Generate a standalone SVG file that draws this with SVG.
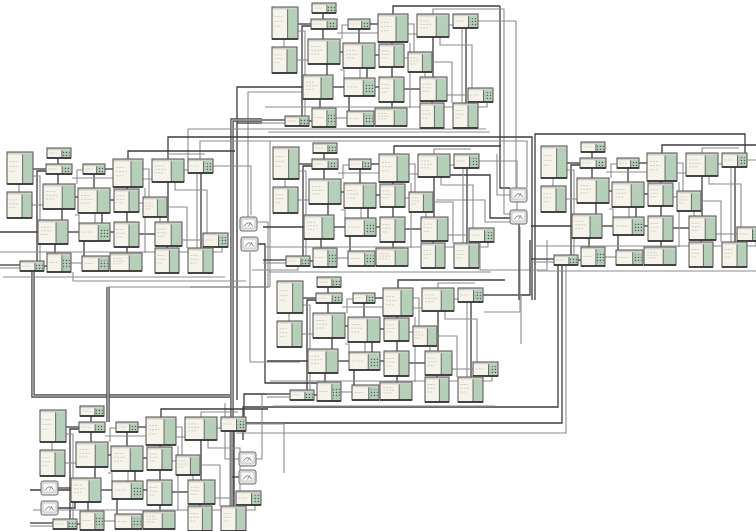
<svg xmlns="http://www.w3.org/2000/svg" width="756" height="531" viewBox="0 0 756 531">
<style>
.k{fill:none;stroke:#3d3d3d;stroke-width:1.3}
.t{fill:none;stroke:#8c8c8c;stroke-width:1.1}
.d{fill:none;stroke:#454545;stroke-width:3.4}
.di{fill:none;stroke:#d8d8d8;stroke-width:1.1}
</style>
<defs>
<pattern id="dots" width="3" height="3" patternUnits="userSpaceOnUse"><rect x="0.8" y="0.8" width="1.3" height="1.3" fill="#4e5a50"/></pattern>
<symbol id="bx" overflow="visible">
 <rect width="100%" height="100%" fill="#f6f4ea"/>
 <rect x="60%" width="40%" height="100%" fill="#b5cfb9"/>
 <rect width="100%" height="2.4" fill="#d0d0c8"/>
 <g stroke="#c2c0b4" stroke-width="0.7" stroke-dasharray="2 1">
  <line x1="10%" y1="30%" x2="40%" y2="30%"/>
  <line x1="10%" y1="45%" x2="45%" y2="45%"/>
  <line x1="10%" y1="60%" x2="35%" y2="60%"/>
 </g>
 <line x1="60%" y1="2.4" x2="60%" y2="100%" stroke="#4c4c4c" stroke-width="0.8"/>
 <rect width="100%" height="100%" fill="none" stroke="#5e5e5e" stroke-width="1.1"/>
 <line x1="0" y1="100%" x2="100%" y2="100%" stroke="#2e2e2e" stroke-width="1.6"/>
</symbol>
<symbol id="bd" overflow="visible">
 <rect width="100%" height="100%" fill="#f6f4ea"/>
 <rect x="62%" width="38%" height="100%" fill="#b5cfb9"/>
 <rect x="67%" y="30%" width="28%" height="55%" fill="url(#dots)"/>
 <rect width="100%" height="2.2" fill="#d0d0c8"/>
 <line x1="10%" y1="50%" x2="45%" y2="50%" stroke="#c2c0b4" stroke-width="0.7" stroke-dasharray="2 1"/>
 <line x1="62%" y1="2.2" x2="62%" y2="100%" stroke="#4c4c4c" stroke-width="0.8"/>
 <rect width="100%" height="100%" fill="none" stroke="#5e5e5e" stroke-width="1.1"/>
 <line x1="0" y1="100%" x2="100%" y2="100%" stroke="#2e2e2e" stroke-width="1.6"/>
</symbol>
<symbol id="ga" overflow="visible">
 <rect width="17" height="14" rx="2" fill="#e4e8e4" stroke="#6a6a6a" stroke-width="1"/>
 <rect x="2" y="2" width="13" height="9" fill="#fbfbfb" stroke="#aaa" stroke-width="0.6"/>
 <path d="M4,9.5 Q8.5,2 13,9.5" fill="none" stroke="#667" stroke-width="0.8"/>
 <path d="M8.5,9.5 L11,5" fill="none" stroke="#667" stroke-width="0.6"/>
</symbol>
<g id="mod">
 <g id="mod-links">
  <path class="k" d="M297,24H311"/>
  <path class="k" d="M323,13V19"/>
  <path class="k" d="M323,29V39"/>
  <path class="k" d="M311,26H302V116"/>
  <path class="t" d="M298,31H305V116"/>
  <path class="k" d="M359,29V43"/>
  <path class="t" d="M348,25H342V39"/>
  <path class="k" d="M370,24H378"/>
  <path class="k" d="M393,14V6H500"/>
  <path class="t" d="M433,14V9H470"/>
  <path class="t" d="M478,21H516V70"/>
  <path class="k" d="M433,37V77"/>
  <path class="t" d="M462,28V103"/>
  <path class="k" d="M466,28V103"/>
  <path class="t" d="M408,24H414V52"/>
  <path class="t" d="M408,34H440V45H472V88"/>
  <path class="k" d="M327,64V75"/>
  <path class="k" d="M340,52H343"/>
  <path class="k" d="M375,55H379"/>
  <path class="t" d="M404,58H408"/>
  <path class="t" d="M425,72V77"/>
  <path class="k" d="M333,87H344"/>
  <path class="k" d="M375,87H379"/>
  <path class="k" d="M404,89H420"/>
  <path class="t" d="M360,68V78"/>
  <path class="k" d="M367,68V78"/>
  <path class="k" d="M349,96V111"/>
  <path class="k" d="M392,102V108"/>
  <path class="k" d="M320,99V108"/>
  <path class="k" d="M303,87H262"/>
  <path class="k" d="M285,120H262"/>
  <path class="t" d="M285,123H262"/>
  <path class="t" d="M265,107H487V92"/>
  <path class="t" d="M268,132H490"/>
  <path class="k" d="M392,67V77"/>
  <path class="k" d="M392,42V44"/>
  <path class="t" d="M284,39V47"/>
  <path class="t" d="M297,60H308"/>
  <path class="t" d="M432,62H452V103"/>
  <path class="t" d="M449,25H453"/>
  <path class="t" d="M447,95H468"/>
  <path class="k" d="M432,101V103"/>
  <path class="t" d="M410,43V108"/>
  <path class="t" d="M337,33H378"/>
  <path class="k" d="M309,121H312"/>
  <path class="t" d="M336,118H347"/>
  <path class="t" d="M340,70H344V78"/>
 </g>
 <g id="mod-nodes">
  <g id="m1"><use href="#bd" x="312" y="3" width="24" height="10"/></g>
  <g id="m2"><use href="#bx" x="272" y="7" width="26" height="32"/></g>
  <g id="m3"><use href="#bd" x="311" y="19" width="26" height="10"/></g>
  <g id="m4"><use href="#bd" x="348" y="19" width="22" height="10"/></g>
  <g id="m5"><use href="#bx" x="378" y="14" width="30" height="28"/></g>
  <g id="m6"><use href="#bx" x="417" y="14" width="32" height="23"/></g>
  <g id="m7"><use href="#bd" x="453" y="14" width="25" height="14"/></g>
  <g id="m8"><use href="#bx" x="272" y="47" width="25" height="26"/></g>
  <g id="m9"><use href="#bx" x="308" y="39" width="32" height="25"/></g>
  <g id="m10"><use href="#bx" x="343" y="43" width="32" height="25"/></g>
  <g id="m11"><use href="#bx" x="379" y="44" width="25" height="23"/></g>
  <g id="m12"><use href="#bx" x="408" y="52" width="24" height="20"/></g>
  <g id="m13"><use href="#bx" x="303" y="75" width="30" height="24"/></g>
  <g id="m14"><use href="#bd" x="344" y="78" width="31" height="18"/></g>
  <g id="m15"><use href="#bx" x="379" y="77" width="25" height="25"/></g>
  <g id="m16"><use href="#bx" x="420" y="77" width="27" height="24"/></g>
  <g id="m17"><use href="#bd" x="468" y="88" width="25" height="14"/></g>
  <g id="m18"><use href="#bd" x="312" y="108" width="24" height="19"/></g>
  <g id="m19"><use href="#bd" x="347" y="111" width="27" height="15"/></g>
  <g id="m20"><use href="#bx" x="375" y="108" width="32" height="18"/></g>
  <g id="m21"><use href="#bx" x="420" y="103" width="24" height="25"/></g>
  <g id="m22"><use href="#bx" x="453" y="103" width="25" height="25"/></g>
  <g id="m23"><use href="#bd" x="285" y="116" width="24" height="10"/></g>
 </g>
</g>
</defs>
<rect width="756" height="531" fill="#ffffff"/>
<g id="connectors">
 <path class="k" d="M500,6V188H510"/>
 <path class="t" d="M470,9H504V214H510"/>
 <path class="t" d="M516,70V188"/>
 <path class="k" d="M262,87H237V400"/>
 <path class="t" d="M303,92H248V218"/>
 <path class="d" d="M262,120H232V531"/><path class="di" d="M262,120H232V531"/>
 <path class="k" d="M262,123H237"/>
 <path class="t" d="M188,159V129H486"/>
 <path class="k" d="M168,159V137H532V300"/>
 <path class="t" d="M200,159V141H527V188"/>
 <path class="k" d="M535,300V134H745V153"/>
 <path class="t" d="M257,222H268V287H190"/>
 <path class="k" d="M258,244H265V383H330"/>
 <path class="t" d="M250,252V362H300"/>
 <path class="t" d="M298,265V270H252"/>
 <path class="d" d="M33,270V396H230"/><path class="di" d="M33,270V396H230"/>
 <path class="d" d="M108,287V422"/><path class="di" d="M108,287V422"/>
 <path class="t" d="M108,287H270"/>
 <path class="t" d="M73,272V281H246"/>
 <path class="t" d="M270,141V287"/>
 <path class="t" d="M480,240V270H547V240"/>
 <path class="t" d="M520,227V312H484"/>
 <path class="k" d="M530,240V295H483"/>
 <path class="k" d="M519,223V300"/>
 <path class="t" d="M497,154V195H510"/>
 <path class="k" d="M450,175H490V218H510"/>
 <path class="t" d="M436,200H485V222H510"/>
 <path class="k" d="M558,263V407H243V440"/>
 <path class="k" d="M562,263V423H233"/>
 <path class="t" d="M566,263V433H236"/>
 <path class="k" d="M267,394H244V420"/>
 <path class="k" d="M57,488H71"/>
 <path class="k" d="M58,508H75V502"/>
 <path class="t" d="M239,459H225V403"/>
 <path class="k" d="M239,477H232"/>
 <path class="t" d="M256,459H262V395"/>
</g>
<g id="subsystems">
 <use id="sub-top" href="#mod"/>
 <use id="sub-left" href="#mod" transform="translate(-265,145)"/>
 <use id="sub-middle" href="#mod" transform="translate(1,140)"/>
 <use id="sub-right" href="#mod" transform="translate(269,139)"/>
 <use id="sub-lower" href="#mod" transform="translate(5,274)"/>
 <use id="sub-bottomleft" href="#mod" transform="translate(-232,403)"/>
</g>
<g id="gauges">
 <g id="g1"><use href="#ga" x="240" y="217"/></g>
 <g id="g2"><use href="#ga" x="241" y="237"/></g>
 <g id="g3"><use href="#ga" x="510" y="188"/></g>
 <g id="g4"><use href="#ga" x="510" y="210"/></g>
 <g id="g5"><use href="#ga" x="41" y="481"/></g>
 <g id="g6"><use href="#ga" x="41" y="501"/></g>
 <g id="g7"><use href="#ga" x="239" y="452"/></g>
 <g id="g8"><use href="#ga" x="239" y="470"/></g>
</g>
</svg>
